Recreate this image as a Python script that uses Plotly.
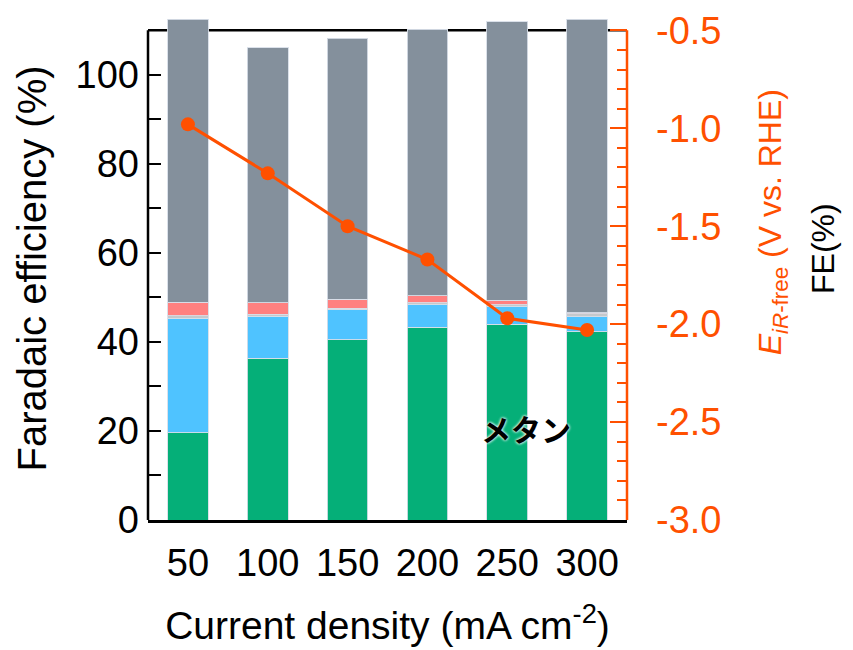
import plotly.graph_objects as go

categories = ["50", "100", "150", "200", "250", "300"]
fe_green = [19.6, 36.3, 40.5, 43.3, 44.0, 42.3]
fe_blue = [25.7, 9.5, 6.7, 5.1, 3.9, 3.4]
fe_lightgrey = [0.6, 0.45, 0.4, 0.45, 0.5, 0.6]
fe_pink = [3.0, 2.6, 2.0, 1.5, 1.0, 0.3]
fe_grey = [63.6, 57.25, 58.6, 59.95, 62.5, 65.9]
potential = [-0.98, -1.23, -1.50, -1.67, -1.97, -2.03]
left_ticks = [0, 20, 40, 60, 80, 100]
right_ticks = [-3.0, -2.5, -2.0, -1.5, -1.0, -0.5]
right_ticktext = ["-3.0", "-2.5", "-2.0", "-1.5", "-1.0", "-0.5"]

FE_TOP = 110
FE_MAX = 113
V_MIN = -3.0
V_TOP = -0.5
V_MAX = V_MIN + (V_TOP - V_MIN) * FE_MAX / FE_TOP

ORANGE = "#FF5000"
FONT = "Liberation Sans, Arial, sans-serif"

fig = go.Figure()
series = [
    (fe_green, "#05AF78"),
    (fe_blue, "#4FC3FF"),
    (fe_lightgrey, "#C4C8CC"),
    (fe_pink, "#FF8080"),
    (fe_grey, "#84909C"),
]
for vals, col in series:
    fig.add_trace(go.Bar(
        x=categories, y=vals,
        marker=dict(color=col, line=dict(color="rgba(215,222,232,0.9)", width=1)),
        showlegend=False, yaxis="y",
    ))

fig.add_trace(go.Scatter(
    x=categories, y=potential, mode="lines+markers", yaxis="y2",
    line=dict(color=ORANGE, width=3), marker=dict(color=ORANGE, size=14),
    showlegend=False, cliponaxis=False,
))

fig.update_layout(
    width=845, height=642,
    margin=dict(l=140, r=226, t=9, b=130),
    plot_bgcolor="white", paper_bgcolor="white",
    barmode="stack", bargap=0.49,
    font=dict(family=FONT, color="black"),
    xaxis=dict(
        showline=True, linecolor="black", linewidth=2.5, mirror=False, automargin=False,
        ticks="", tickfont=dict(size=38, color="black"), ticklabelstandoff=8,
        title=dict(text="Current density (mA cm<sup>-2</sup>)", font=dict(size=39), standoff=29),
        showgrid=False,
    ),
    yaxis=dict(
        range=[0, FE_MAX], showline=False, automargin=False,
        tickvals=left_ticks,
        ticks="inside", ticklen=13, tickwidth=2, tickcolor="black",
        minor=dict(ticks="inside", ticklen=13, tickwidth=2, tickcolor="black", dtick=10, tick0=0),
        tickfont=dict(size=38, color="black"), ticklabelstandoff=8,
        title=dict(text="Faradaic efficiency (%)", font=dict(size=40), standoff=16),
        showgrid=False, zeroline=False,
    ),
    yaxis2=dict(
        overlaying="y", side="right", range=[V_MIN, V_MAX], automargin=False,
        showline=False,
        tickvals=right_ticks, ticktext=right_ticktext,
        ticks="inside", ticklen=17, tickwidth=2, tickcolor=ORANGE,
        minor=dict(ticks="inside", ticklen=10, tickwidth=2, tickcolor=ORANGE, dtick=0.1, tick0=-3.0),
        tickfont=dict(size=38, color=ORANGE), ticklabelstandoff=28,
        showgrid=False, zeroline=False,
    ),
    shapes=[
        dict(type="line", xref="paper", yref="y", x0=0, x1=1, y0=FE_TOP, y1=FE_TOP,
             line=dict(color="black", width=2.5), layer="below"),
        dict(type="line", xref="paper", yref="y", x0=0, x1=0, y0=0, y1=FE_TOP,
             line=dict(color="black", width=2.5), layer="above"),
        dict(type="line", xref="paper", yref="y", x0=1, x1=1, y0=0, y1=FE_TOP,
             line=dict(color=ORANGE, width=2.5), layer="above"),
    ],
    annotations=[
        dict(text="<i>E</i><sub><i>iR</i>-free</sub> (V vs. RHE)", xref="paper", yref="y",
             x=1.303, y=66.9, textangle=-90, showarrow=False,
             font=dict(size=32, color=ORANGE, family=FONT), xanchor="center", yanchor="middle"),
        dict(text="FE(%)", xref="paper", yref="y", x=1.409, y=61.1, textangle=-90,
             showarrow=False, font=dict(size=32, color="black", family=FONT),
             xanchor="center", yanchor="middle"),
        dict(text="<b>メタン</b>", xref="paper", yref="y", x=0.789, y=20.65, showarrow=False,
             font=dict(size=30, color="black", family="Noto Sans CJK JP",
                       shadow="0 0 3px white, 0 0 3px white"),
             xanchor="center", yanchor="middle"),
    ],
)

fig.write_html("out.html")
